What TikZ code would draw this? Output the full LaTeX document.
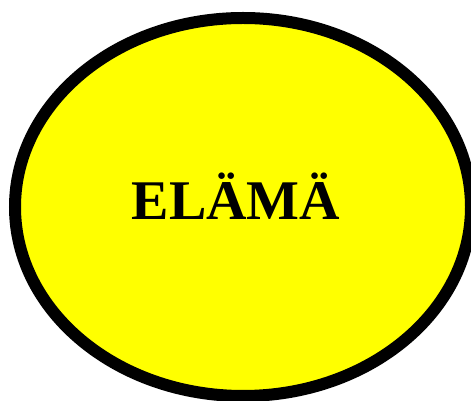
\documentclass[tikz,border=0pt]{standalone}
\usepackage{fontspec}
\setmainfont{Liberation Serif}
\usepackage{tikz}
\usetikzlibrary{shapes.geometric, positioning}
\definecolor{sunyellow}{RGB}{255,255,0}

\begin{document}
\begin{tikzpicture}[
    x=1pt, y=1pt,
    blob/.style={
        draw, ellipse, line width=12pt,
        fill=sunyellow, inner sep=0pt,
        minimum width=456pt, minimum height=378pt
    },
    word/.style={
        anchor=base, inner sep=0pt,
        font=\fontsize{56}{62}\selectfont\bfseries
    }
]
\clip (0,0) rectangle (471,401);
\useasboundingbox (0,0) rectangle (471,401);

\node[blob] (life) at (243,194) {};
\node[word] (lifetext) at ([shift={(-7pt,-13pt)}]life.center) {ELÄMÄ};

\end{tikzpicture}
\end{document}
